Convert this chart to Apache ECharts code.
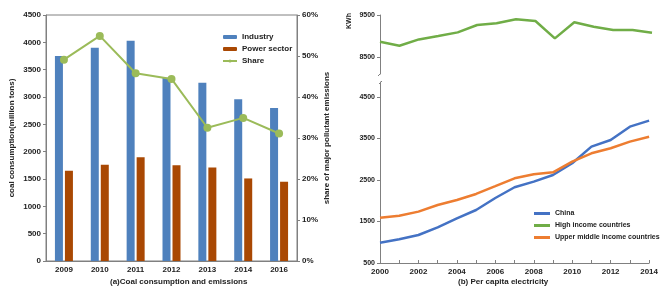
<!DOCTYPE html>
<html>
<head>
<meta charset="utf-8">
<script src="https://cdn.jsdelivr.net/npm/echarts@6/dist/echarts.min.js"></script>
<style>
  html, body { margin: 0; padding: 0; background: #fff; }
  #main { width: 661px; height: 290px; }
</style>
</head>
<body>
<div id="main"></div>
<script>
// (a) coal consumption and emissions
var years = ['2009', '2010', '2011', '2012', '2013', '2014', '2016'];
var industry = [3750, 3900, 4030, 3350, 3260, 2960, 2800];
var power = [1650, 1760, 1900, 1750, 1710, 1510, 1450];
var share = [49.1, 54.9, 45.8, 44.4, 32.5, 34.9, 31.1];

// (b) per capita electricity (KWh)
var years2 = ['2000', '2001', '2002', '2003', '2004', '2005', '2006', '2007',
    '2008', '2009', '2010', '2011', '2012', '2013', '2014'];
var china = [990, 1070, 1175, 1360, 1577, 1777, 2065, 2324, 2459, 2620, 2902, 3302, 3464, 3784, 3929];
var highIncome = [8864, 8769, 8921, 9000, 9088, 9262, 9302, 9398, 9357, 8945, 9326, 9221, 9143, 9143, 9079];
var upperMiddle = [1592, 1640, 1737, 1898, 2018, 2163, 2350, 2540, 2637, 2685, 2941, 3143, 3264, 3423, 3543];

var upperTicks = [8500, 9500];
var lowerTicks = [500, 1500, 2500, 3500, 4500];

var font = 'Liberation Sans, Arial, sans-serif';
var axisCol = '#808080';
var txt = { fontFamily: font, fontSize: 8, fontWeight: 'bold', color: '#222' };
var plain = function (v) { return String(v); };

var option = {
    backgroundColor: '#fff',
    animation: false,
    title: [
        { text: '(a)Coal consumption and emissions', left: 110, top: 278, padding: 0, textStyle: txt },
        { text: '(b) Per capita electricity', left: 458, top: 278, padding: 0, textStyle: txt }
    ],
    graphic: [{
        type: 'text', left: 346, top: 13, rotation: Math.PI / 2,
        style: { text: 'KWh', font: 'bold 7px ' + font, fill: '#222' }
    }, {
        // little break marks on the split axis
        type: 'line', shape: { x1: 378, y1: 76, x2: 381, y2: 73 }, style: { stroke: axisCol, lineWidth: 1 }
    }, {
        type: 'line', shape: { x1: 379, y1: 84, x2: 382, y2: 81 }, style: { stroke: axisCol, lineWidth: 1 }
    }],
    legend: [{
        orient: 'vertical', left: 217, top: 28, itemWidth: 14, itemHeight: 4, itemGap: 4,
        textStyle: txt,
        data: ['Industry', 'Power sector', 'Share']
    }, {
        orient: 'vertical', left: 529, top: 205, itemWidth: 16, itemHeight: 3, itemGap: 5,
        icon: 'rect',
        textStyle: Object.assign({}, txt, { fontSize: 7 }),
        data: ['China', 'High income countries', 'Upper middle income countries']
    }],
    grid: [
        { left: 46, top: 15, width: 251, height: 246, show: true, borderColor: axisCol, borderWidth: 1 },
        { left: 380, top: 15, width: 272, height: 59 },
        { left: 380, top: 82, width: 272, height: 181 }
    ],
    xAxis: [{
        gridIndex: 0, type: 'category', data: years,
        axisLine: { lineStyle: { color: axisCol } },
        axisTick: { length: 3, lineStyle: { color: axisCol } },
        axisLabel: Object.assign({ margin: 5 }, txt)
    }, {
        gridIndex: 1, type: 'category', data: years2, boundaryGap: false, show: false
    }, {
        gridIndex: 2, type: 'category', data: years2, boundaryGap: false,
        axisLine: { lineStyle: { color: axisCol } },
        axisTick: { inside: true, length: 3, interval: 0, lineStyle: { color: axisCol } },
        axisLabel: Object.assign({ interval: 1, margin: 5 }, txt)
    }],
    yAxis: [{
        gridIndex: 0, type: 'value', min: 0, max: 4500, interval: 500,
        name: 'coal consumption(million tons)', nameLocation: 'middle', nameGap: 30, nameRotate: 90,
        nameTextStyle: txt,
        splitLine: { show: false },
        axisLine: { show: true, lineStyle: { color: axisCol } },
        axisTick: { show: true, length: 3, lineStyle: { color: axisCol } },
        axisLabel: Object.assign({ margin: 5, formatter: plain }, txt)
    }, {
        gridIndex: 0, type: 'value', min: 0, max: 60, interval: 10, position: 'right',
        name: 'share of major pollutant emissions', nameLocation: 'middle', nameGap: 26, nameRotate: 90,
        nameTextStyle: txt,
        splitLine: { show: false },
        axisLine: { show: true, lineStyle: { color: axisCol } },
        axisTick: { show: true, length: 3, lineStyle: { color: axisCol } },
        axisLabel: Object.assign({ margin: 5, formatter: '{value}%' }, txt)
    }, {
        gridIndex: 1, type: 'value', min: 8100, max: 9500,
        splitLine: { show: false },
        axisLine: { show: true, lineStyle: { color: axisCol } },
        axisTick: { show: true, length: 3, customValues: upperTicks, lineStyle: { color: axisCol } },
        axisLabel: Object.assign({}, txt, { fontSize: 7, margin: 5, customValues: upperTicks, formatter: plain })
    }, {
        gridIndex: 2, type: 'value', min: 500, max: 4860,
        splitLine: { show: false },
        axisLine: { show: true, lineStyle: { color: axisCol } },
        axisTick: { show: true, length: 3, customValues: lowerTicks, lineStyle: { color: axisCol } },
        axisLabel: Object.assign({}, txt, { fontSize: 7, margin: 5, customValues: lowerTicks, formatter: plain })
    }],
    series: [{
        name: 'Industry', type: 'bar', xAxisIndex: 0, yAxisIndex: 0,
        barWidth: 8, barGap: '25%',
        itemStyle: { color: '#4F81BD' },
        data: industry
    }, {
        name: 'Power sector', type: 'bar', xAxisIndex: 0, yAxisIndex: 0,
        barWidth: 8, barGap: '25%',
        itemStyle: { color: '#A94803' },
        data: power
    }, {
        name: 'Share', type: 'line', xAxisIndex: 0, yAxisIndex: 1,
        symbol: 'circle', symbolSize: 8,
        lineStyle: { color: '#9BBB59', width: 2 },
        itemStyle: { color: '#9BBB59' },
        data: share
    }, {
        name: 'High income countries', type: 'line', xAxisIndex: 1, yAxisIndex: 2,
        symbol: 'none', lineStyle: { color: '#70AD47', width: 2.5 }, itemStyle: { color: '#70AD47' },
        data: highIncome
    }, {
        name: 'China', type: 'line', xAxisIndex: 2, yAxisIndex: 3,
        symbol: 'none', lineStyle: { color: '#4472C4', width: 2.5 }, itemStyle: { color: '#4472C4' },
        data: china
    }, {
        name: 'Upper middle income countries', type: 'line', xAxisIndex: 2, yAxisIndex: 3,
        symbol: 'none', lineStyle: { color: '#ED7D31', width: 2.5 }, itemStyle: { color: '#ED7D31' },
        data: upperMiddle
    }]
};

var chart = echarts.init(document.getElementById('main'));
chart.setOption(option);
</script>
</body>
</html>
